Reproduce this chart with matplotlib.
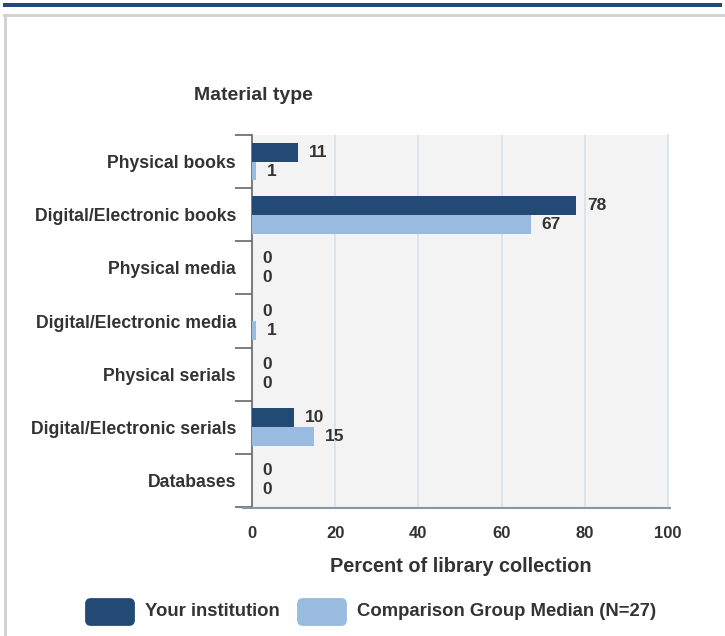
import matplotlib
matplotlib.use("Agg")
import matplotlib.pyplot as plt
from matplotlib.patches import FancyBboxPatch, Rectangle
from matplotlib.lines import Line2D
import numpy as np

plt.rcParams['font.family'] = ['Liberation Sans', 'DejaVu Sans']

categories = ["Physical books", "Digital/Electronic books", "Physical media",
              "Digital/Electronic media", "Physical serials",
              "Digital/Electronic serials", "Databases"]
your_institution = [11, 78, 0, 0, 0, 10, 0]
comparison_median = [1, 67, 0, 1, 0, 15, 0]
series_names = ["Your institution", "Comparison Group Median (N=27)"]
x_ticks = [0, 20, 40, 60, 80, 100]

DARK = "#234a75"
LIGHT = "#99bbe0"
TXT = "#333333"

W, H = 725, 636
fig = plt.figure(figsize=(W / 100, H / 100), dpi=100)

def fx(px):
    return px / W

def fy(py):
    return 1 - py / H

# top dark band and grey frame
fig.add_artist(Rectangle((fx(3), fy(7)), fx(719), 4 / H, transform=fig.transFigure,
                         color=DARK, lw=0))
fig.add_artist(Line2D([fx(4), 1], [fy(15), fy(15)], transform=fig.transFigure,
                      color="#d0d0d0", lw=2))
fig.add_artist(Line2D([fx(5), fx(5)], [fy(15), 0], transform=fig.transFigure,
                      color="#d0d0d0", lw=2))

ax = fig.add_axes([fx(252), fy(507), fx(668) - fx(252), (507 - 135) / H])
ax.set_facecolor("#f3f3f3")

n = len(categories)
y = np.arange(n)
h = 0.355
ax.barh(y - h / 2, your_institution, height=h, color=DARK, zorder=3)
ax.barh(y + h / 2, comparison_median, height=h, color=LIGHT, zorder=3)

for i in range(n):
    ax.text(your_institution[i] + 2.6, y[i] - h / 2, str(your_institution[i]),
            va="center", ha="left", fontsize=12.5, fontweight="bold", color=TXT)
    ax.text(comparison_median[i] + 2.6, y[i] + h / 2, str(comparison_median[i]),
            va="center", ha="left", fontsize=12.5, fontweight="bold", color=TXT)

ax.set_xlim(0, 100)
ax.set_ylim(n - 0.5, -0.5)
ax.set_xticks(x_ticks)
ax.set_xticklabels([str(t) for t in x_ticks], fontsize=12, fontweight="bold", color=TXT)
ax.tick_params(axis="x", length=0, pad=14)
for t in x_ticks[1:-1]:
    ax.axvline(t, color="#d6e2ef", lw=1.2, zorder=1)

ax.set_yticks(y)
ax.set_yticklabels(categories, fontsize=12.7, fontweight="bold", color=TXT)
ax.tick_params(axis="y", length=0, pad=11.5)
ax.set_yticks(np.arange(n + 1) - 0.5, minor=True)
ax.tick_params(axis="y", which="minor", length=12, width=1.2, color="#666666")

ax.spines["top"].set_visible(False)
ax.spines["right"].set_color("#d6e2ef")
ax.spines["right"].set_linewidth(1.2)
ax.spines["left"].set_color("#666666")
ax.spines["left"].set_linewidth(1.2)
ax.spines["bottom"].set_visible(False)
fig.add_artist(Line2D([fx(243), fx(670)], [fy(508), fy(508)], transform=fig.transFigure,
                      color="#8a96a6", lw=1.5))

fig.text(fx(253), fy(95), "Material type", ha="center", va="center", fontsize=14,
         fontweight="bold", color=TXT)
fig.text(fx(461), fy(567), "Percent of library collection", ha="center", va="center",
         fontsize=14.3, fontweight="bold", color=TXT)

# legend
for (x0, col, name, tx) in [(85, DARK, series_names[0], 145), (297, LIGHT, series_names[1], 357)]:
    fig.add_artist(FancyBboxPatch((fx(x0 + 3), fy(626 - 3)), fx(44), 22 / H,
                                  boxstyle="round,pad=0.004,rounding_size=0.008",
                                  transform=fig.transFigure, color=col, lw=0,
                                  mutation_aspect=W / H))
    fig.text(fx(tx), fy(611), name, ha="left", va="center", fontsize=13.3,
             fontweight="bold", color=TXT)

fig.savefig("out.png", dpi=100)
